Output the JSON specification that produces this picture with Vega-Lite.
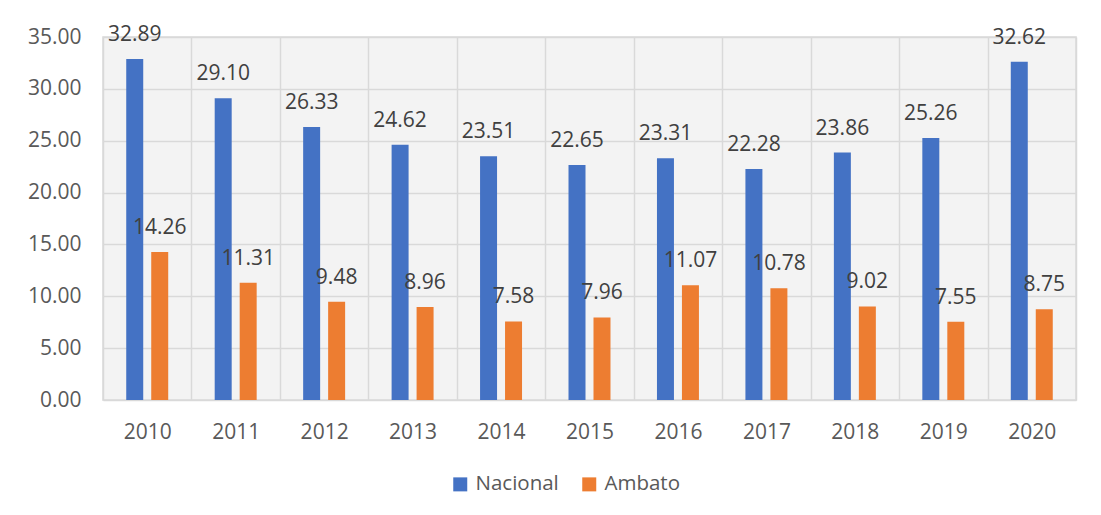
{
  "$schema": "https://vega.github.io/schema/vega-lite/v6.json",
  "autosize": {"type": "none"},
  "padding": {"left": 103, "top": 37, "right": 25, "bottom": 115},
  "width": 973,
  "height": 363,
  "background": "white",
  "config": {
    "font": "Open Sans",
    "view": {"stroke": "#d9d9d9", "strokeWidth": 1.5, "fill": "#f3f3f3"}
  },
  "data": {
    "values": [
      {"year": "2010", "serie": "Nacional", "value": 32.89},
      {"year": "2011", "serie": "Nacional", "value": 29.10},
      {"year": "2012", "serie": "Nacional", "value": 26.33},
      {"year": "2013", "serie": "Nacional", "value": 24.62},
      {"year": "2014", "serie": "Nacional", "value": 23.51},
      {"year": "2015", "serie": "Nacional", "value": 22.65},
      {"year": "2016", "serie": "Nacional", "value": 23.31},
      {"year": "2017", "serie": "Nacional", "value": 22.28},
      {"year": "2018", "serie": "Nacional", "value": 23.86},
      {"year": "2019", "serie": "Nacional", "value": 25.26},
      {"year": "2020", "serie": "Nacional", "value": 32.62},
      {"year": "2010", "serie": "Ambato", "value": 14.26},
      {"year": "2011", "serie": "Ambato", "value": 11.31},
      {"year": "2012", "serie": "Ambato", "value": 9.48},
      {"year": "2013", "serie": "Ambato", "value": 8.96},
      {"year": "2014", "serie": "Ambato", "value": 7.58},
      {"year": "2015", "serie": "Ambato", "value": 7.96},
      {"year": "2016", "serie": "Ambato", "value": 11.07},
      {"year": "2017", "serie": "Ambato", "value": 10.78},
      {"year": "2018", "serie": "Ambato", "value": 9.02},
      {"year": "2019", "serie": "Ambato", "value": 7.55},
      {"year": "2020", "serie": "Ambato", "value": 8.75}
    ]
  },
  "encoding": {
    "x": {
      "field": "year", "type": "nominal", "title": null,
      "scale": {"paddingInner": 0, "paddingOuter": 0},
      "axis": {
        "labelAngle": 0, "labelFontSize": 21, "labelColor": "#595959",
        "labelPadding": 21, "ticks": false, "domain": false,
        "grid": true, "tickBand": "extent", "gridColor": "#d9d9d9", "gridWidth": 1.5
      }
    },
    "xOffset": {
      "field": "serie", "type": "nominal",
      "scale": {"domain": ["Nacional", "Ambato"], "paddingInner": 0.32, "paddingOuter": 0.93}
    },
    "y": {
      "field": "value", "type": "quantitative", "title": null,
      "scale": {"domain": [0, 35], "nice": false},
      "axis": {
        "values": [0, 5, 10, 15, 20, 25, 30, 35], "format": ".2f",
        "labelFontSize": 21, "labelColor": "#595959", "labelPadding": 22,
        "ticks": false, "domain": false, "grid": true,
        "gridColor": "#d9d9d9", "gridWidth": 1.5
      }
    }
  },
  "layer": [
    {
      "mark": {"type": "bar"},
      "encoding": {
        "color": {
          "field": "serie", "type": "nominal",
          "scale": {"domain": ["Nacional", "Ambato"], "range": ["#4472C4", "#ED7D31"]},
          "legend": {
            "title": null, "orient": "none", "direction": "horizontal",
            "legendX": 347, "legendY": 437, "padding": 0,
            "symbolType": "square", "symbolSize": 196, "symbolStrokeWidth": 0,
            "labelFontSize": 20.5, "labelColor": "#595959", "labelOffset": 5,
            "columnPadding": 20
          }
        }
      }
    },
    {
      "mark": {"type": "text", "fontSize": 21, "color": "#404040", "baseline": "alphabetic", "dy": -18},
      "encoding": {
        "text": {"field": "value", "type": "quantitative", "format": ".2f"}
      }
    }
  ]
}
